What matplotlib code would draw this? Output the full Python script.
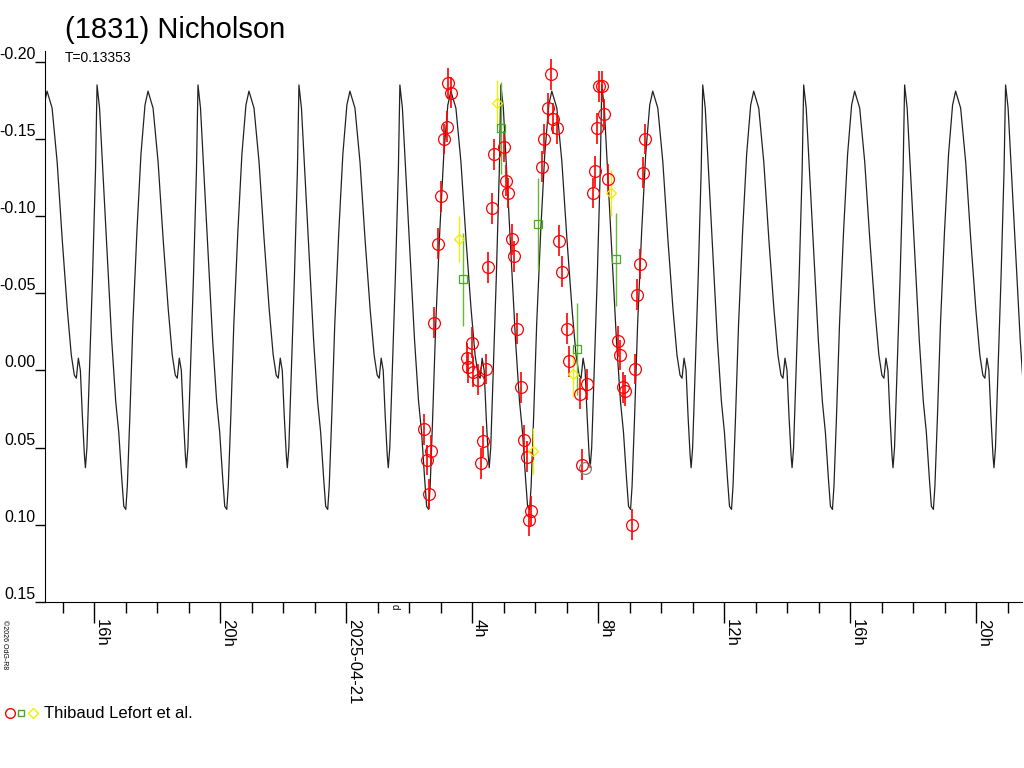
import matplotlib
matplotlib.use("Agg")
import matplotlib.pyplot as plt
import numpy as np

plt.rcParams['font.family'] = ['Liberation Sans', 'DejaVu Sans']

# Periode in Tagen und Form einer Periode (Phase 0..1, Helligkeit)
period_days = 0.13353
peak_hour = -9.49  # Zeit des ersten breiten Maximums, Stunden ab 2025-04-21 0h
phase = [0.00, 0.05, 0.10, 0.15, 0.20, 0.24, 0.27, 0.29, 0.31, 0.33, 0.35, 0.37,
         0.38, 0.395, 0.42, 0.45, 0.48, 0.495, 0.52, 0.56, 0.60, 0.64, 0.68, 0.71,
         0.74, 0.76, 0.78, 0.795, 0.82, 0.85, 0.89, 0.93, 0.97, 1.00]
shape = [-0.181, -0.170, -0.135, -0.085, -0.040, -0.010, 0.003, 0.005, -0.008, 0.000,
         0.030, 0.055, 0.063, 0.050, 0.000, -0.060, -0.130, -0.185, -0.170, -0.120,
         -0.070, -0.020, 0.020, 0.040, 0.070, 0.088, 0.090, 0.075, 0.030, -0.030,
         -0.090, -0.140, -0.172, -0.181]

# Messpunkte (Stunden ab 2025-04-21 0h, Helligkeit, Fehler)
red_t = [3.24, 3.33, 3.21, 3.11, 3.02, 2.92, 2.79, 2.48, 2.70, 2.57, 2.63, 4.00, 3.84,
         3.87, 4.03, 4.19, 4.44, 4.35, 4.29, 4.51, 4.63, 4.70, 5.02, 5.08, 5.14, 5.27,
         5.33, 5.43, 5.56, 5.65, 5.75, 5.87, 5.81, 6.51, 6.41, 6.57, 6.70, 6.29, 6.22,
         6.76, 6.86, 7.02, 7.08, 7.43, 7.65, 7.49, 8.03, 8.13, 8.19, 7.97, 7.90, 7.84,
         8.32, 8.63, 8.70, 8.79, 8.86, 9.08, 9.17, 9.24, 9.33, 9.43, 9.49]
red_m = [-0.186, -0.180, -0.158, -0.150, -0.113, -0.082, -0.031, 0.038, 0.052, 0.058,
         0.080, -0.018, -0.008, -0.002, 0.001, 0.006, -0.001, 0.046, 0.060, -0.067,
         -0.105, -0.140, -0.145, -0.123, -0.115, -0.085, -0.074, -0.027, 0.011, 0.045,
         0.056, 0.091, 0.097, -0.192, -0.170, -0.163, -0.157, -0.150, -0.132, -0.084,
         -0.064, -0.027, -0.006, 0.015, 0.009, 0.061, -0.184, -0.184, -0.166, -0.157,
         -0.129, -0.115, -0.124, -0.019, -0.010, 0.011, 0.013, 0.100, -0.001, -0.049,
         -0.069, -0.128, -0.150]
red_err = 0.010
gray_t = [7.59]
gray_m = [0.063]
green_t = [3.71, 4.92, 6.10, 7.33, 8.57]
green_m = [-0.059, -0.157, -0.095, -0.014, -0.072]
green_err = 0.030
yellow_t = [3.59, 4.79, 5.94, 8.41, 7.21]
yellow_m = [-0.085, -0.173, 0.052, -0.115, 0.002]
yellow_err = 0.015

major_ticks = [-8, -4, 0, 4, 8, 12, 16, 20]
major_labels = ["16h", "20h", "2025-04-21", "4h", "8h", "12h", "16h", "20h"]
y_ticks = [-0.20, -0.15, -0.10, -0.05, 0.00, 0.05, 0.10, 0.15]

fig = plt.figure(figsize=(10.24, 7.68), dpi=100)
ax = fig.add_axes([45 / 1024, 166 / 768, 977 / 1024, 551 / 768])

P = period_days * 24
ph = np.array(phase)
curve_t = []
curve_m = []
for k in range(-1, 12):
    curve_t.extend(peak_hour + (k + ph) * P)
    curve_m.extend(shape)
ax.plot(curve_t, curve_m, color="#222222", lw=0.9, zorder=2)

ax.errorbar(red_t, red_m, yerr=red_err, fmt="o", ms=8.5, mfc="none", mec="red",
            ecolor="red", elinewidth=1.2, mew=0.9, zorder=3)
ax.plot(gray_t, gray_m, "o", ms=8.5, mfc="none", mec="gray", mew=0.9, zorder=3)
ax.errorbar(green_t, green_m, yerr=green_err, fmt="s", ms=5.5, mfc="none", mec="#44aa22",
            ecolor="#66bb33", elinewidth=1.0, mew=0.9, zorder=3)
ax.errorbar(yellow_t, yellow_m, yerr=yellow_err, fmt="D", ms=5, mfc="none", mec="#eeee00",
            ecolor="#eeee00", elinewidth=1.0, mew=0.9, zorder=3)

for s in ["top", "right"]:
    ax.spines[s].set_visible(False)

ax.set_yticks(y_ticks)
ax.set_yticklabels(["%.2f" % v if v != 0 else "0.00" for v in y_ticks], fontsize=11.5,
                   va="bottom")
ax.tick_params(axis="y", length=7, width=1, pad=0)
ax.set_xticks(major_ticks)
ax.set_xticklabels(major_labels, rotation=270, fontsize=12, ha="left", va="top")
ax.set_xticks(np.arange(-9, 22, 1), minor=True)
ax.tick_params(axis="x", which="major", length=15, width=1, pad=-3)
ax.tick_params(axis="x", which="minor", length=8, width=1)

ax.set_xlim((45 - 346) / 31.5, (1022 - 346) / 31.5)
ax.set_ylim(0.15, -0.207)

fig.text(65 / 1024, 1 - 30 / 768, "(1831) Nicholson", fontsize=21, va="center")
fig.text(65 / 1024, 1 - 58 / 768, "T=0.13353", fontsize=10, va="center")
fig.text(395 / 1024, 1 - 607 / 768, "d", fontsize=7, rotation=270, ha="center", va="center")
fig.text(4 / 1024, 1 - 645 / 768, "©2026 OdG-R8", fontsize=5, rotation=270,
         ha="center", va="center")

# Legende unten
fig.lines.append(plt.Line2D([10 / 1024], [1 - 713 / 768], marker="o", ms=7, mfc="none",
                            mec="red", transform=fig.transFigure))
fig.lines.append(plt.Line2D([21 / 1024], [1 - 713 / 768], marker="s", ms=5, mfc="none",
                            mec="#44aa22", transform=fig.transFigure))
fig.lines.append(plt.Line2D([33 / 1024], [1 - 713 / 768], marker="D", ms=5, mfc="none",
                            mec="#eeee00", transform=fig.transFigure))
fig.text(44 / 1024, 1 - 713 / 768, "Thibaud Lefort et al.", fontsize=12, va="center")

fig.savefig("out.png", dpi=100)
